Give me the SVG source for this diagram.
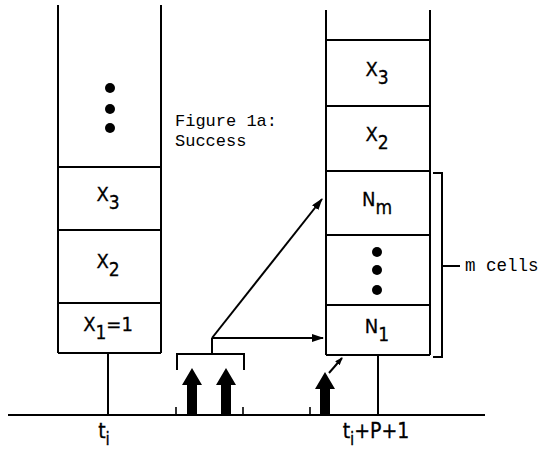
<svg xmlns="http://www.w3.org/2000/svg" width="544" height="454" viewBox="0 0 544 454">
<style>
.ln{stroke:#000;stroke-width:2;fill:none}
.thin{stroke:#000;stroke-width:1.6;fill:none}
.lbl{font-family:"Liberation Sans Narrow","DejaVu Sans Condensed","Liberation Sans",sans-serif;font-size:20px;fill:#000;stroke:#000;stroke-width:0.3;text-anchor:middle}
.mono{font-family:"Liberation Mono","DejaVu Sans Mono",monospace;font-size:17px;fill:#000}
.dot{fill:#000}
.fat{fill:#000}
</style>
<defs>
<marker id="ah" markerWidth="12" markerHeight="8" refX="11" refY="4" orient="auto" markerUnits="userSpaceOnUse">
<path d="M0,0 L12,4 L0,8 Z" fill="#000"/>
</marker>
<marker id="ahs" markerWidth="8" markerHeight="6" refX="7" refY="3" orient="auto" markerUnits="userSpaceOnUse">
<path d="M0,0 L8,3 L0,6 Z" fill="#000"/>
</marker>
</defs>
<rect width="544" height="454" fill="#fff"/>

<g id="timeline">
<line class="ln" x1="8" y1="415" x2="485" y2="415"/>
<line class="thin" x1="176" y1="407" x2="176" y2="415"/>
<line class="thin" x1="243" y1="407" x2="243" y2="415"/>
<line class="thin" x1="310" y1="407" x2="310" y2="415"/>
<text class="lbl" x="104" y="438" style="font-size:21px">t<tspan dy="7" font-size="17">i</tspan></text>
<text class="lbl" x="376" y="438" style="font-size:21px">t<tspan dy="7" font-size="17">i</tspan><tspan dy="-7">+P+1</tspan></text>
</g>

<g id="stack-left">
<line class="ln" x1="58" y1="5" x2="58" y2="353"/>
<line class="ln" x1="161" y1="5" x2="161" y2="353"/>
<line class="ln" x1="58" y1="167" x2="161" y2="167"/>
<line class="ln" x1="58" y1="230" x2="161" y2="230"/>
<line class="ln" x1="58" y1="303" x2="161" y2="303"/>
<line class="ln" x1="58" y1="353" x2="161" y2="353"/>
<line class="ln" x1="108" y1="353" x2="108" y2="415"/>
<circle class="dot" cx="110" cy="88" r="5"/>
<circle class="dot" cx="110" cy="109" r="5"/>
<circle class="dot" cx="110" cy="128" r="5"/>
<text class="lbl" x="108" y="201">X<tspan dy="8" font-size="19">3</tspan></text>
<text class="lbl" x="108" y="268">X<tspan dy="8" font-size="19">2</tspan></text>
<text class="lbl" x="108" y="331">X<tspan dy="8" font-size="19">1</tspan><tspan dy="-8">=1</tspan></text>
</g>

<g id="stack-right">
<line class="ln" x1="326" y1="10" x2="326" y2="355"/>
<line class="ln" x1="430" y1="10" x2="430" y2="355"/>
<line class="ln" x1="326" y1="40" x2="430" y2="40"/>
<line class="ln" x1="326" y1="106" x2="430" y2="106"/>
<line class="ln" x1="326" y1="171" x2="430" y2="171"/>
<line class="ln" x1="326" y1="235" x2="430" y2="235"/>
<line class="ln" x1="326" y1="305" x2="430" y2="305"/>
<line class="ln" x1="326" y1="355" x2="430" y2="355"/>
<line class="ln" x1="378" y1="355" x2="378" y2="415"/>
<circle class="dot" cx="377" cy="252" r="5"/>
<circle class="dot" cx="377" cy="270" r="5"/>
<circle class="dot" cx="377" cy="290" r="5"/>
<text class="lbl" x="377" y="76">X<tspan dy="8" font-size="19">3</tspan></text>
<text class="lbl" x="377" y="141">X<tspan dy="8" font-size="19">2</tspan></text>
<text class="lbl" x="377" y="206">N<tspan dy="8" font-size="19">m</tspan></text>
<text class="lbl" x="377" y="333">N<tspan dy="8" font-size="19">1</tspan></text>
</g>

<g id="bracket-m-cells">
<path class="ln" d="M433,173 H442 V357 H433"/>
<line class="ln" x1="442" y1="266" x2="460" y2="266"/>
<text class="mono" x="465" y="271" style="font-size:17.5px">m cells</text>
</g>

<g id="caption">
<text class="mono" x="175" y="126">Figure 1a:</text>
<text class="mono" x="175" y="146">Success</text>
</g>

<g id="pulses">
<path class="ln" d="M177,370 V354 H244 V370"/>
<path class="fat" d="M192,368 L202,385 L197,385 L197,415 L187,415 L187,385 L182,385 Z"/>
<path class="fat" d="M226,368 L236,385 L231,385 L231,415 L221,415 L221,385 L216,385 Z"/>
<path class="fat" d="M325,372 L335,389 L330,389 L330,415 L320,415 L320,389 L315,389 Z"/>
</g>

<g id="connectors">
<line class="ln" x1="212" y1="338" x2="212" y2="354"/>
<line class="ln" x1="212" y1="338" x2="322" y2="199" marker-end="url(#ah)"/>
<line class="ln" x1="212" y1="338" x2="323" y2="338" marker-end="url(#ah)"/>
<line class="ln" x1="329" y1="373" x2="342" y2="358" marker-end="url(#ahs)"/>
</g>
</svg>
